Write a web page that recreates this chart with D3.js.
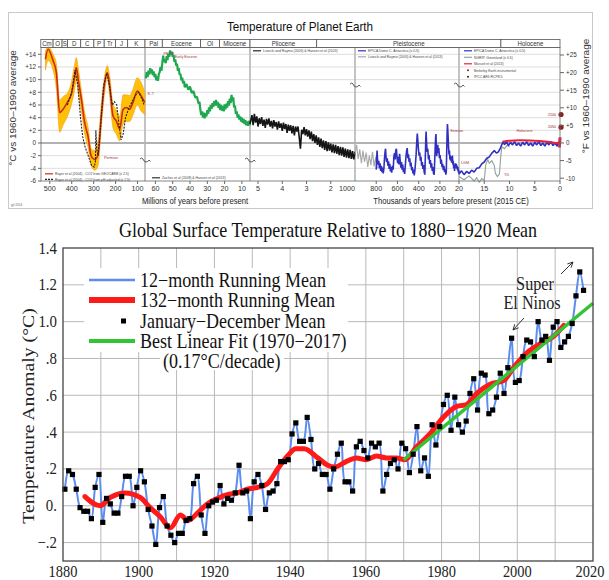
<!DOCTYPE html>
<html>
<head>
<meta charset="utf-8">
<script src="https://d3js.org/d3.v7.min.js"></script>
<style>
  body { margin: 0; background: #fff; }
  .sans { font-family: "Liberation Sans", Arial, sans-serif; }
  .serif { font-family: "Liberation Serif", "Times New Roman", serif; }
</style>
</head>
<body>
<div id="chart"></div>
<script>
// ================= top panel data =================
// geologic periods: name, start (My), end (My)
const periods = [
  ["Cm", 541, 485], ["O", 485, 444], ["S", 444, 419], ["D", 419, 359], ["C", 359, 299],
  ["P", 299, 252], ["Tr", 252, 201], ["J", 201, 145], ["K", 145, 66], ["Pal", 66, 56],
  ["Eocene", 56, 33.9], ["Ol", 33.9, 23], ["Miocene", 23, 5.33], ["Pliocene", 5.33, 2.58],
  ["Pleistocene", 2.58, 0.0117], ["Holocene", 0.0117, 0]
];

// Royer et al (My, deg C)
const royerAge = [520, 508, 485, 470, 455, 440, 417, 402, 386, 379, 371, 356, 341, 326, 311, 295, 280, 265, 250, 238, 227, 212, 197, 181, 166, 151, 136, 121, 101, 83, 67];
const royerMid = [13.2, 14.8, 13, 11.1, 4.8, 5.3, 6.6, 7.7, 10.6, 11.9, 10.1, 6.9, 3.2, 1.1, -2.1, -2.6, -1.8, 4.3, 9.5, 11.1, 9.0, 4.3, 3.5, 2.2, 5.3, 5.6, 5.3, 6.4, 8.2, 7.4, 6.4];
const royerHi = [14.5, 15.2, 14, 12.5, 6.8, 7.3, 8, 9.5, 12.5, 13.5, 12, 8.3, 4.8, 2.6, -0.9, -1.2, 0.3, 6.2, 10.6, 12.2, 10.6, 6.2, 5.2, 4.2, 7.6, 7.6, 7.5, 8.5, 10.3, 9.5, 8];
const royerLo = [11.5, 13, 11.5, 8.5, 1.7, 2.8, 4.4, 6, 8.5, 10, 8, 5, 1.4, -0.6, -3.6, -4.3, -3.6, 2.4, 8, 10.2, 7.4, 2.4, 1.4, 0.3, 3, 3.4, 3.4, 4.4, 6, 5, 4.5];
const royerPh = [[420, 6], [400, 8], [385, 11.5], [372, 9], [360, 4], [350, 1], [340, -0.5], [325, -2], [310, -3.5], [298, -3.8], [292, -3], [290, 2], [286, -1], [280, -2], [270, 2], [255, 9], [240, 11], [228, 9], [215, 6], [205, 6.5], [195, 6], [185, 3], [175, 0.5], [165, 1.5], [155, 4], [140, 5.5], [125, 6.5], [110, 7.5], [95, 8], [80, 7], [70, 6]];

// Zachos et al (My, deg C)
const zachos = [[65.5,10.2],[65,11.2],[64.5,10.4],[64,11.4],[63.5,10.8],[63,11.8],[62.5,11],[62,11.6],[61.5,10.7],[61,11.3],[60.5,10.4],[60,10.9],[59.5,9.9],[59,10.5],[58.5,9.8],[58,10.9],[57.5,11.2],[57,12],[56.5,11.4],[56,12.6],[55.5,13.8],[55,12.8],[54.5,13.2],[54,12.6],[53.5,13.7],[53,13.1],[52.5,14.1],[52,13.6],[51.5,14.6],[51,13.9],[50.5,14.4],[50,13.6],[49.5,13.9],[49,12.8],[48.5,13.2],[48,12.2],[47.5,12.5],[47,11.4],[46.5,11.8],[46,10.8],[45.5,10.9],[45,9.9],[44.5,10.3],[44,9.4],[43.5,9.8],[43,8.8],[42,9.3],[41,8.4],[40,8.9],[39,7.9],[38,8.2],[37,7.2],[36,7.3],[35,6.2],[34.5,6.5],[34,5.2],[33.5,4.4],[33,5.0],[32.5,4.0],[32,4.8],[31.5,3.9],[31,4.7],[30.5,4.2],[30,5.2],[29.5,4.6],[29,5.6],[28.5,5.0],[28,6.0],[27.5,5.4],[27,6.3],[26.5,5.7],[26,6.6],[25.5,5.9],[25,6.8],[24.5,5.9],[24,6.5],[23.5,5.5],[23,6.2],[22.5,5.2],[22,6.0],[21.5,5.1],[21,5.8],[20.5,5.0],[20,6.1],[19.5,5.3],[19,6.2],[18.5,5.6],[18,6.6],[17.5,5.9],[17,7.0],[16.5,6.3],[16,7.6],[15.5,6.6],[15,7.2],[14.5,5.6],[14,5.9],[13.5,4.6],[13,5.0],[12.5,4.0],[12,4.5],[11.5,3.7],[11,4.2],[10.5,3.4],[10,4.0],[9.5,3.2],[9,3.8],[8.5,3.0],[8,3.6],[7.5,2.8],[7,3.4],[6.5,2.7],[6,3.5],[5.5,2.8],[5.33,3.3]];

// Lisiecki and Raymo, Pliocene (My, deg C)
const lisiecki = [[5.33,3.0],[5.25,4.4],[5.2,2.8],[5.15,4.6],[5.1,3.2],[5.05,4.2],[5.0,2.6],[4.95,3.9],[4.9,3.0],[4.85,4.1],[4.8,2.7],[4.75,3.7],[4.7,2.4],[4.65,3.8],[4.6,2.9],[4.55,3.9],[4.5,2.6],[4.45,3.5],[4.4,2.3],[4.35,3.6],[4.3,2.6],[4.25,3.3],[4.2,2.1],[4.15,3.4],[4.1,2.4],[4.05,3.1],[4.0,1.9],[3.95,3.2],[3.9,2.2],[3.85,3.0],[3.8,1.6],[3.75,2.9],[3.7,1.9],[3.65,2.8],[3.6,1.5],[3.55,2.7],[3.5,1.2],[3.45,2.6],[3.4,1.8],[3.35,2.6],[3.3,0.9],[3.25,-0.9],[3.2,2.1],[3.15,1.4],[3.1,2.5],[3.05,1.2],[3.0,2.2],[2.95,1.0],[2.9,2.0],[2.85,0.6],[2.8,1.8],[2.75,0.3],[2.7,1.4],[2.65,0.0],[2.6,1.2],[2.55,-0.3],[2.5,0.9],[2.45,-0.6],[2.4,0.7],[2.35,-0.8],[2.3,0.4],[2.25,-1.1],[2.2,0.3],[2.15,-1.3],[2.1,0.1],[2.05,-1.2],[2.0,-0.1],[1.95,-1.5],[1.9,-0.2],[1.85,-1.6],[1.8,-0.3],[1.75,-1.7],[1.7,-0.5],[1.65,-1.9],[1.6,-0.6],[1.55,-2.0],[1.5,-0.7],[1.45,-2.2],[1.4,-0.9],[1.35,-2.3],[1.3,-1.0],[1.25,-2.4],[1.2,-1.1],[1.15,-2.5],[1.1,-1.3],[1.05,-2.6],[1.0,-1.4]];

// Lisiecki and Raymo, Pleistocene part (ky, deg C)
const lisieckiKy = [[1000,-1.8],[985,-0.3],[970,-2.5],[955,-1.0],[940,-3.2],[925,-1.2],[910,-3.0],[895,-1.5],[880,-3.8],[865,-2.0],[850,-3.5],[835,-1.4],[820,-3.7],[805,-2.2],[790,-4.0]];

// EPICA Dome C (ky, deg C)
const epica = [[800,-4.2],[796,-2.5],[792,-1.2],[788,-2.6],[782,-3.4],[776,-2.8],[770,-4.0],[764,-3.2],[758,-4.4],[752,-3.6],[746,-4.6],[740,-3.9],[734,-4.8],[728,-4.1],[722,-2.4],[716,-1.3],[712,-0.9],[708,-2.2],[702,-3.0],[696,-2.4],[690,-3.6],[684,-2.9],[678,-4.1],[672,-3.3],[666,-4.5],[660,-3.8],[654,-4.7],[648,-3.6],[640,-4.2],[634,-2.2],[628,-1.6],[622,-2.6],[616,-1.2],[610,-0.9],[604,-2.3],[598,-3.2],[592,-2.2],[586,-3.4],[580,-1.7],[574,-2.8],[568,-3.9],[562,-3.0],[556,-4.2],[550,-3.4],[544,-4.6],[538,-4.0],[532,-4.9],[526,-3.6],[520,-2.2],[514,-1.3],[508,-0.8],[502,-2.4],[496,-1.8],[490,-3.0],[484,-2.4],[478,-3.7],[472,-3.1],[466,-4.3],[460,-3.8],[454,-4.8],[448,-4.2],[442,-5.1],[436,-4.4],[430,-3.2],[424,-1.8],[418,0.2],[413,1.5],[408,0.4],[402,-1.0],[396,-2.0],[390,-1.5],[384,-2.8],[378,-2.2],[372,-3.6],[366,-3.0],[360,-4.1],[354,-3.5],[348,-4.6],[342,-5.0],[337,-2.0],[333,0.6],[330,1.8],[326,0.2],[320,-1.4],[314,-0.9],[308,-2.6],[302,-1.9],[296,-3.3],[290,-2.7],[284,-3.9],[278,-3.2],[272,-4.4],[266,-3.8],[260,-4.8],[254,-5.0],[249,-2.8],[244,-0.6],[240,0.9],[237,1.4],[234,-0.6],[230,-2.1],[226,-1.0],[220,-0.3],[216,-1.6],[210,-0.8],[204,-2.4],[198,-1.9],[192,-3.3],[186,-2.6],[180,-3.8],[174,-3.3],[168,-4.3],[162,-3.6],[156,-4.6],[150,-4.1],[144,-5.0],[140,-4.6],[136,-1.5],[132,1.5],[129,3.0],[126,2.2],[122,0.8],[118,-0.8],[114,-1.8],[110,-1.2],[106,-2.6],[102,-2.0],[98,-2.8],[94,-2.2],[90,-3.1],[86,-2.5],[82,-2.0],[78,-3.4],[74,-2.8],[70,-4.0],[66,-3.5],[62,-4.4],[58,-3.6],[54,-3.2],[50,-3.9],[46,-3.3],[42,-4.0],[38,-3.6],[34,-4.3],[30,-3.8],[26,-4.6],[22,-4.3],[20,-4.9],[19.5,-4.4],[19,-5.0],[18.5,-4.5],[18,-4.8],[17.5,-4.3],[17,-4.6],[16.5,-4.0],[16,-3.9],[15.5,-3.3],[15,-3.0],[14.5,-2.4],[14,-2.2],[13.5,-1.6],[13,-1.2],[12.6,-1.6],[12.2,-1.4],[11.8,-0.8],[11.5,-0.2],[11.2,0.3],[11,-0.3],[10.6,0.2],[10.2,-0.4],[9.8,0.1],[9.4,-0.3],[9,0.2],[8.6,-0.4],[8.2,0.0],[7.8,-0.5],[7.4,0.1],[7,-0.3],[6.6,0.2],[6.2,-0.4],[5.8,0.0],[5.4,-0.5],[5,0.1],[4.6,-0.3],[4.2,0.2],[3.8,-0.4],[3.4,0.0],[3,-0.5],[2.6,0.1],[2.2,-0.3],[1.8,0.2],[1.4,-0.4],[1,0.0],[0.6,-0.5],[0.3,0.1],[0,-0.2]];

// NGRIP Greenland (ky, deg C)
const ngrip = [[20,-5.3],[19,-5.8],[18,-5.2],[17,-6.0],[16.5,-5.5],[16,-6.2],[15.5,-5.6],[15,-5.9],[14.7,-3.4],[14.3,-2.6],[14,-3.2],[13.5,-2.8],[13,-3.6],[12.8,-4.8],[12.4,-5.3],[12,-4.9],[11.7,-1.8],[11.5,-0.6],[11,-0.9],[10.5,-0.4],[10,-0.6]];

// Marcott et al, Berkeley Earth (ky, deg C)
const marcott = [[11.3,0.2],[10,0.35],[8,0.45],[6,0.4],[4,0.3],[2,0.15],[0.5,0.0],[0.1,0.2]];
const berkeley = [[0.165,-0.7],[0.1,-0.4],[0.05,0.0],[0.02,0.5],[0,0.9]];
// IPCC AR5 projections: label, deg C
const ipcc = [["2100", 4.5], ["2050", 2.5]];

const topXTicks = [[500,"500"],[400,"400"],[300,"300"],[200,"200"],[100,"100"],[60,"60"],[50,"50"],[40,"40"],[30,"30"],[20,"20"],[10,"10"],[5,"5"],[4,"4"],[3,"3"],[2,"2"],[0.8,"800"],[0.6,"600"],[0.4,"400"],[0.2,"200"],[0.02,"20"],[0.015,"15"],[0.01,"10"],[0.005,"5"],[0,"0"]];
const topCTicks = [-6, -4, -2, 0, 2, 4, 6, 8, 10, 12, 14];
const topFTicks = [-10, -5, 0, 5, 10, 15, 20, 25];

// ================= bottom panel data =================
const annualYears = d3.range(1880, 2018);
const annualMeans = [0.09,0.19,0.17,0.09,-0.01,-0.03,-0.03,-0.07,0.10,0.17,
  -0.09,0.04,0.01,-0.04,-0.04,0.05,0.16,0.16,0.00,0.10,
  0.19,0.13,-0.02,-0.11,-0.21,-0.01,0.05,-0.11,-0.16,-0.20,
  -0.15,-0.15,-0.08,-0.07,0.12,0.16,-0.05,-0.15,0.00,0.02,
  0.03,0.11,0.01,0.04,0.03,0.07,0.22,0.07,0.08,-0.07,
  0.13,0.17,0.11,-0.02,0.07,0.08,0.12,0.24,0.24,0.25,
  0.39,0.45,0.35,0.35,0.48,0.36,0.20,0.23,0.17,0.17,
  0.09,0.20,0.28,0.34,0.13,0.13,0.08,0.32,0.35,0.30,
  0.26,0.34,0.32,0.34,0.08,0.17,0.23,0.25,0.20,0.34,
  0.31,0.18,0.28,0.43,0.19,0.26,0.16,0.44,0.33,0.43,
  0.55,0.60,0.41,0.59,0.44,0.40,0.46,0.61,0.69,0.52,
  0.72,0.71,0.50,0.52,0.59,0.72,0.61,0.75,0.91,0.67,
  0.68,0.81,0.90,0.89,0.81,1.00,0.90,0.92,0.79,0.97,
  1.00,0.86,0.89,0.92,0.99,1.14,1.27,1.17];
const runYears = [1885.8,1889.8,1892.5,1896.4,1900.4,1903,1905.7,1908.4,1911,1913,1915.5,1918.1,1920.8,1923.4,1926.1,1928.7,1931.4,1934,1936.7,1939.3,1941.5,1943.7,1947.3,1949.9,1951.7,1954.8,1957.5,1960.1,1962.8,1965.4,1968.1,1970.3,1973.4,1976.9,1980.4,1984,1986.6,1989.3,1992.8,1996.4,1999,2002.5,2006.1,2009.6,2012.3];
const runMeans = [0.05,0.0,0.045,0.07,0.045,-0.01,-0.06,-0.12,-0.05,-0.08,-0.04,0.01,0.04,0.06,0.07,0.09,0.1,0.12,0.2,0.27,0.31,0.31,0.26,0.22,0.21,0.24,0.26,0.25,0.27,0.26,0.26,0.25,0.32,0.39,0.48,0.54,0.55,0.61,0.66,0.68,0.75,0.83,0.88,0.92,0.98];
const fitYears = [1970, 2020];
const fitValues = [0.25, 1.10];
const bTickYears = [1880, 1900, 1920, 1940, 1960, 1980, 2000, 2020];
const bTickVals = [-0.2, 0, 0.2, 0.4, 0.6, 0.8, 1.0, 1.2, 1.4];
const bTickLabels = ["\u2212.2", "0.", ".2", ".4", ".6", ".8", "1.0", "1.2", "1.4"];
const legendLabels = ["12\u2212month Running Mean", "132\u2212month Running Mean", "January\u2212December Mean", "Best Linear Fit (1970\u22122017)"];

// ================= drawing =================
const svg = d3.select("#chart").append("svg").attr("width", 609).attr("height", 580);
svg.append("rect").attr("width", 609).attr("height", 580).attr("fill", "#fff");

// text helper, squeezed horizontally like the source picture
function txt(g, x, y, s, size, opts = {}) {
  return g.append("text")
    .attr("transform", `translate(${x},${y}) scale(${opts.sx || 0.9},1)` + (opts.rot ? ` rotate(${opts.rot})` : ""))
    .attr("text-anchor", opts.anchor || "start")
    .attr("font-size", size)
    .attr("fill", opts.fill || "#222")
    .text(s);
}

// ---------- top panel ----------
const gt = svg.append("g").attr("class", "sans");
gt.append("rect").attr("x", 8.5).attr("y", 12.5).attr("width", 584).attr("height", 196)
  .attr("fill", "#fff").attr("stroke", "#c9c9c9");
txt(gt, 300, 31, "Temperature of Planet Earth", 13, { anchor: "middle", fill: "#111" });

const xT = d3.scaleLinear().domain([541, 66, 5.33, 1.0, 0.02, 0]).range([40.8, 145, 250, 355, 459, 560]);
const yT = d3.scaleLinear().domain([-6, 14]).range([181, 54.3]);
const ky = a => a / 1000;

// horizontal grid
gt.selectAll(".hg").data(topCTicks.filter(d => d > -6)).enter().append("line")
  .attr("x1", 41).attr("x2", 560).attr("y1", d => yT(d)).attr("y2", d => yT(d))
  .attr("stroke", d => d === 0 ? "#999" : "#d4d4d4").attr("stroke-width", d => d === 0 ? 1.6 : 0.8);
// segment separators
gt.selectAll(".vs").data([66, 5.33, 1.0, 0.02]).enter().append("line")
  .attr("x1", d => xT(d)).attr("x2", d => xT(d)).attr("y1", 47).attr("y2", 181)
  .attr("stroke", "#b5b5b5").attr("stroke-width", 1.6);

// header with periods
const hdr = gt.append("g");
hdr.selectAll("rect").data(periods).enter().append("rect")
  .attr("x", d => xT(d[1])).attr("y", 39.5).attr("width", d => xT(d[2]) - xT(d[1])).attr("height", 8)
  .attr("fill", "#fff").attr("stroke", "#555").attr("stroke-width", 0.8);
periods.forEach(p => txt(hdr, (xT(p[1]) + xT(p[2])) / 2, 46, p[0], 6.8, { anchor: "middle", fill: "#333" }));

// Royer band and lines
gt.append("path").datum(d3.range(royerAge.length))
  .attr("d", d3.area().x(i => xT(royerAge[i])).y0(i => yT(royerLo[i])).y1(i => yT(royerHi[i])).curve(d3.curveMonotoneX))
  .attr("fill", "#ffc107").attr("stroke", "#f39c12").attr("stroke-width", 0.6);
gt.append("path").datum(d3.range(royerAge.length))
  .attr("d", d3.line().x(i => xT(royerAge[i])).y(i => yT(royerMid[i])).curve(d3.curveMonotoneX))
  .attr("fill", "none").attr("stroke", "#cc2a12").attr("stroke-width", 1.6);
gt.append("path").datum(royerPh)
  .attr("d", d3.line().x(d => xT(d[0])).y(d => yT(d[1])))
  .attr("fill", "none").attr("stroke", "#222").attr("stroke-width", 1.1).attr("stroke-dasharray", "2,1.2");

// Cenozoic and Pliocene
gt.append("path").datum(zachos)
  .attr("d", d3.line().x(d => xT(d[0])).y(d => yT(d[1])))
  .attr("fill", "none").attr("stroke", "#1fa84f").attr("stroke-width", 2.2).attr("stroke-linejoin", "bevel");
gt.append("path").datum(lisiecki)
  .attr("d", d3.line().x(d => xT(d[0])).y(d => yT(d[1])))
  .attr("fill", "none").attr("stroke", "#151515").attr("stroke-width", 1.6).attr("stroke-linejoin", "bevel");
gt.append("path").datum(lisieckiKy)
  .attr("d", d3.line().x(d => xT(ky(d[0]))).y(d => yT(d[1])))
  .attr("fill", "none").attr("stroke", "#a8a8a8").attr("stroke-width", 1.1);
gt.append("path").datum(ngrip)
  .attr("d", d3.line().x(d => xT(ky(d[0]))).y(d => yT(d[1])))
  .attr("fill", "none").attr("stroke", "#8fa39a").attr("stroke-width", 1.1);
gt.append("path").datum(epica)
  .attr("d", d3.line().x(d => xT(ky(d[0]))).y(d => yT(d[1])))
  .attr("fill", "none").attr("stroke", "#3030c0").attr("stroke-width", 1.6).attr("stroke-linejoin", "bevel");
gt.append("path").datum(marcott)
  .attr("d", d3.line().x(d => xT(ky(d[0]))).y(d => yT(d[1])).curve(d3.curveMonotoneX))
  .attr("fill", "none").attr("stroke", "#e8203c").attr("stroke-width", 2);
gt.append("path").datum(berkeley)
  .attr("d", d3.line().x(d => xT(ky(d[0]))).y(d => yT(d[1])))
  .attr("fill", "none").attr("stroke", "#e8203c").attr("stroke-width", 3);
gt.selectAll(".ipcc").data(ipcc).enter().append("circle")
  .attr("cx", 561).attr("cy", d => yT(d[1])).attr("r", 2.6).attr("fill", "#8e1b1b");
ipcc.forEach(d => txt(gt, 556, yT(d[1]) + 1.2, d[0], 4, { anchor: "end", fill: "#8e1b1b" }));

// event labels
[["PETM", 56.5, 13.9], ["Early Eocene", 50, 13.4], ["K-T", 65.5, 7.6], ["Permian", 262, -2.5]].forEach(d =>
  txt(gt, xT(d[1]) + 2, yT(d[2]), d[0], 4.2, { fill: "#9b3a3a" }));
[["Eemian", 120, 1.8], ["LGM", 21, -3.3], ["YD", 11.5, -5.2], ["Holocene", 9, 1.8]].forEach(d =>
  txt(gt, xT(ky(d[1])) + 2, yT(d[2]), d[0], 4.2, { fill: "#9b3a3a" }));

// plot frame
gt.append("rect").attr("x", 41).attr("y", 47.5).attr("width", 519).attr("height", 133.5)
  .attr("fill", "none").attr("stroke", "#666").attr("stroke-width", 0.8);

// axes
topCTicks.forEach(t => {
  gt.append("line").attr("x1", 38).attr("x2", 41).attr("y1", yT(t)).attr("y2", yT(t)).attr("stroke", "#666");
  txt(gt, 36, yT(t) + 2.4, (t > 0 ? "+" : "") + t, 7, { anchor: "end", fill: "#333" });
});
topFTicks.forEach(f => {
  const y = yT(f / 1.8);
  gt.append("line").attr("x1", 560).attr("x2", 564).attr("y1", y).attr("y2", y).attr("stroke", "#666");
  txt(gt, 566, y + 2.4, (f > 0 ? "+" : "") + f, 7, { fill: "#333" });
});
topXTicks.forEach(t => {
  const x = xT(t[0]);
  gt.append("line").attr("x1", x).attr("x2", x).attr("y1", 181).attr("y2", 184).attr("stroke", "#666");
  txt(gt, x, 191, t[1], 8, { anchor: "middle", fill: "#333" });
});
txt(gt, 355, 191, "1000", 8, { anchor: "end", fill: "#333" });
txt(gt, 195, 204, "Millions of years before present", 8.5, { anchor: "middle", fill: "#222" });
txt(gt, 451, 204, "Thousands of years before present (2015 CE)", 8.5, { anchor: "middle", fill: "#222" });
txt(gt, 16, 108, "\u00B0C vs 1960\u20131990 average", 10, { anchor: "middle", rot: -90, fill: "#333" });
txt(gt, 589, 96, "\u00B0F vs 1960\u20131990 average", 10, { anchor: "middle", rot: -90, fill: "#333" });
txt(gt, 11, 206, "jgf 2014", 3.5, { fill: "#666" });

// tiny legends
function topLegend(x, y, color, label, dash, dot) {
  if (dot) gt.append("circle").attr("cx", x + 4).attr("cy", y - 1.2).attr("r", 1).attr("fill", color);
  else gt.append("line").attr("x1", x).attr("x2", x + 8).attr("y1", y - 1.2).attr("y2", y - 1.2)
    .attr("stroke", color).attr("stroke-width", 1.2).attr("stroke-dasharray", dash || null);
  txt(gt, x + 10, y, label, 3.8, { fill: "#444" });
}
topLegend(45, 175, "#cc2a12", "Royer et al (2004) - CO2 from GEOCARB (x 2.5)");
topLegend(45, 180.5, "#222", "Royer et al (2004) - CO2 from pH-adjusted (x 2.5)", "2,1");
topLegend(152, 179, "#333", "Zachos et al (2008) & Hansen et al (2013)");
topLegend(253, 52, "#222", "Lisiecki and Raymo (2005) & Hansen et al (2013)");
topLegend(358, 52, "#3030c0", "EPICA Dome C, Antarctica (x 0.5)");
topLegend(358, 58, "#a8a8a8", "Lisiecki and Raymo (2005) & Hansen et al (2013)");
topLegend(464, 52, "#3030c0", "EPICA Dome C, Antarctica (x 0.5)");
topLegend(464, 58.5, "#8fa39a", "NGRIP, Greenland (x 0.5)");
topLegend(464, 65, "#e8203c", "Marcott et al (2013)");
topLegend(464, 71.5, "#8e1b1b", "Berkeley Earth instrumental", null, true);
topLegend(464, 78, "#222", "IPCC AR5 RCP8.5", null, true);

// axis-break marks
function brk(x, y) {
  gt.append("path").attr("d", `M${x - 5},${y - 2} q2,-2 3,0 q1,3 3,3 q2,0 3,-2 l1.5,1.5`)
    .attr("fill", "none").attr("stroke", "#333").attr("stroke-width", 0.8);
}
brk(xT(66), 161); brk(xT(5.33), 161); brk(xT(1.0), 86); brk(xT(0.02), 86);

// ---------- bottom panel ----------
const gb = svg.append("g").attr("class", "serif");
const xB = d3.scaleLinear().domain([1880, 2020]).range([63, 593]);
const yB = d3.scaleLinear().domain([-0.3, 1.4]).range([561, 248]);

txt(gb, 328, 237, "Global Surface Temperature Relative to 1880\u22121920 Mean", 20, { anchor: "middle", fill: "#111" });

gb.selectAll(".vg").data(d3.range(1890, 2020, 10)).enter().append("line")
  .attr("x1", d => xB(d)).attr("x2", d => xB(d)).attr("y1", 248).attr("y2", 561)
  .attr("stroke", "#b9b9b9").attr("stroke-width", 1);
gb.selectAll(".hgb").data(bTickVals.slice(0, -1)).enter().append("line")
  .attr("x1", 63).attr("x2", 593).attr("y1", d => yB(d)).attr("y2", d => yB(d))
  .attr("stroke", "#b9b9b9").attr("stroke-width", 1);

const pts = annualYears.map((y, i) => [y + 0.5, annualMeans[i]]);
gb.append("path").datum(pts)
  .attr("d", d3.line().x(d => xB(d[0])).y(d => yB(d[1])).curve(d3.curveCatmullRom.alpha(0.5)))
  .attr("fill", "none").attr("stroke", "#5b8def").attr("stroke-width", 2);
gb.append("path").datum(runYears.map((y, i) => [y, runMeans[i]]))
  .attr("d", d3.line().x(d => xB(d[0])).y(d => yB(d[1])).curve(d3.curveMonotoneX))
  .attr("fill", "none").attr("stroke", "#ff1a1a").attr("stroke-width", 5).attr("stroke-linecap", "round");
gb.append("path").datum(fitYears.map((y, i) => [y, fitValues[i]]))
  .attr("d", d3.line().x(d => xB(d[0])).y(d => yB(d[1])))
  .attr("fill", "none").attr("stroke", "#33c433").attr("stroke-width", 3.5);
gb.selectAll(".sq").data(pts).enter().append("rect")
  .attr("x", d => xB(d[0]) - 2.6).attr("y", d => yB(d[1]) - 2.6).attr("width", 5.2).attr("height", 5.2)
  .attr("fill", "#000");

// legend
gb.append("rect").attr("x", 84).attr("y", 268).attr("width", 264).attr("height", 84).attr("fill", "#fff");
gb.append("rect").attr("x", 160).attr("y", 352).attr("width", 124).attr("height", 18).attr("fill", "#fff");
const legY = [280, 300, 321, 341];
gb.append("line").attr("x1", 89).attr("x2", 135).attr("y1", legY[0]).attr("y2", legY[0]).attr("stroke", "#5b8def").attr("stroke-width", 2.5);
gb.append("line").attr("x1", 89).attr("x2", 135).attr("y1", legY[1]).attr("y2", legY[1]).attr("stroke", "#ff1a1a").attr("stroke-width", 6);
gb.append("rect").attr("x", 121).attr("y", legY[2] - 2.5).attr("width", 5).attr("height", 5).attr("fill", "#000");
gb.append("line").attr("x1", 89).attr("x2", 135).attr("y1", legY[3]).attr("y2", legY[3]).attr("stroke", "#33c433").attr("stroke-width", 4);
legendLabels.forEach((s, i) => txt(gb, 140, legY[i] + 6.5, s, 20, { fill: "#111" }));
txt(gb, 163, 368, "(0.17\u00B0C/decade)", 20, { fill: "#111" });

// annotations
txt(gb, 535, 290, "Super", 18, { anchor: "middle", fill: "#222" });
txt(gb, 532, 309, "El Ninos", 18, { anchor: "middle", fill: "#222" });
function arrow(x1, y1, x2, y2) {
  const a = Math.atan2(y2 - y1, x2 - x1), L = 6;
  gb.append("path")
    .attr("d", `M${x1},${y1} L${x2},${y2} M${x2 - L * Math.cos(a - 0.45)},${y2 - L * Math.sin(a - 0.45)} L${x2},${y2} L${x2 - L * Math.cos(a + 0.45)},${y2 - L * Math.sin(a + 0.45)}`)
    .attr("fill", "none").attr("stroke", "#333").attr("stroke-width", 1);
}
arrow(524, 318, 513, 330);
arrow(561, 274, 573, 262);

// frame and axes
gb.append("rect").attr("x", 63).attr("y", 248).attr("width", 530).attr("height", 313)
  .attr("fill", "none").attr("stroke", "#444").attr("stroke-width", 1.3);
bTickVals.forEach((v, i) => txt(gb, 57, yB(v) + 5.5, bTickLabels[i], 16.5, { anchor: "end", fill: "#222" }));
bTickYears.forEach(y => txt(gb, Math.min(xB(y), 590), 577, String(y), 16, { anchor: "middle", fill: "#222" }));
txt(gb, 34, 416, "Temperature Anomaly (\u00B0C)", 19.7, { anchor: "middle", rot: -90, fill: "#222" });
</script>
</body>
</html>
